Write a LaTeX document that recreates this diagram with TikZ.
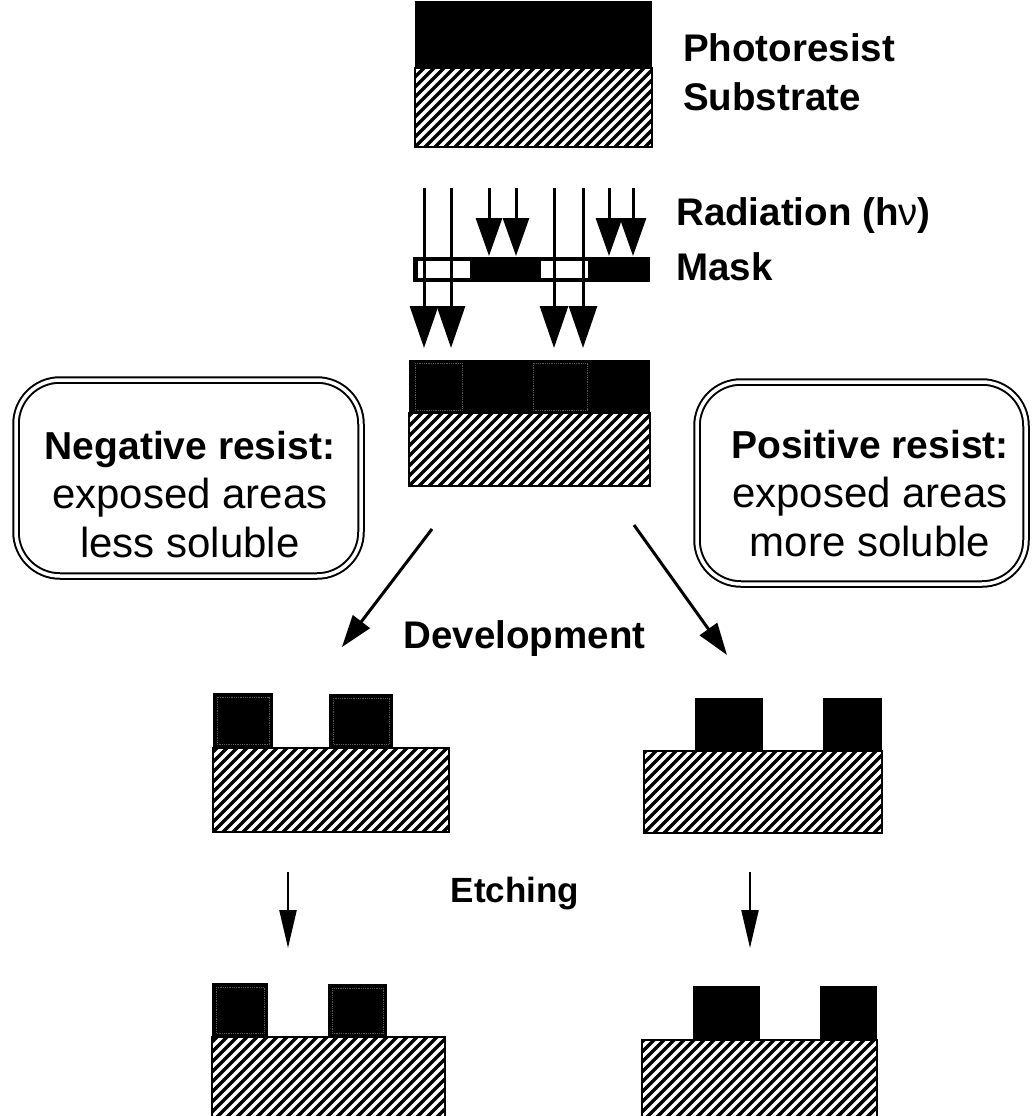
\documentclass[tikz,border=0pt]{standalone}
\usepackage{fontspec}
\setmainfont{Liberation Sans}
\usepackage{tikz}
\usetikzlibrary{arrows.meta}
\tikzset{
  resist/.style  = {fill=black},
  wall/.style    = {draw=black, line width=2.6pt},
  hatch/.style   = {line width=3.5pt},
  expo/.style    = {draw=white, densely dotted, line width=0.8pt, opacity=0.35},
  maskwin/.style = {fill=white, draw=black, line width=1.5pt},
  ray/.style     = {line width=3pt, -{Triangle[length=42pt,width=28pt]}},
  stopray/.style = {line width=3pt, -{Triangle[length=38pt,width=26pt]}},
  devar/.style   = {line width=3pt, -{Triangle[length=32pt,width=21pt]}},
  etchar/.style  = {line width=2.4pt, -{Triangle[length=38pt,width=17pt]}},
  lbl/.style     = {font=\fontsize{38.5}{46}\selectfont\bfseries, anchor=base west, inner sep=0pt},
  stage/.style   = {font=\fontsize{38.5}{46}\selectfont\bfseries, anchor=base, inner sep=0pt},
  note/.style    = {draw=black, double, double distance=3.5pt, line width=2pt, rounded corners=44pt},
  notetxt/.style = {align=center, inner sep=0pt, font=\fontsize{42}{49}\selectfont},
}
\newcommand{\substrate}[4]{%
  \begin{scope}
    \clip (#1,#2) rectangle (#3,#4);
    \foreach \k in {-130,-120,...,260}
      \draw[hatch] (#1+\k,#4) -- ++(130,-130);
  \end{scope}
  \draw[wall] (#1,#2) rectangle (#3,#4);
}

\begin{document}
\begin{tikzpicture}[x=1pt, y=-1pt]
  \path[use as bounding box, clip] (0,0) rectangle (1033,1116);

  % layer stack
  \fill[resist] (415,1) rectangle (652,68);
  \substrate{415}{68}{652}{147}
  \node[lbl] (pr) at (683,62) {Photoresist};
  \node[lbl] (sb) at (683,110) {Substrate};

  % exposure through the mask
  \fill (413,257) rectangle (650,282);
  \draw[maskwin] (417,260) rectangle (471,279);
  \draw[maskwin] (540,260) rectangle (589,279);
  \foreach \x in {489,516,609,633}
    \draw[stopray] (\x,188) -- (\x,256);
  \foreach \x in {424,451,554,583}
    \draw[ray] (\x,188) -- (\x,348);
  \node[lbl] (rad) at (676,225) {Radiation (h{\mdseries ν})};
  \node[lbl] (mk) at (676,280) {Mask};

  % exposed wafer
  \fill[resist] (409,360) rectangle (650,413);
  \draw[expo] (415,363) rectangle (462,410);
  \draw[expo] (533,363) rectangle (587,410);
  \substrate{409}{413}{650}{486}

  \draw[note] (16,380) rectangle (361,576);
  \node[notetxt] (negtxt) at (190,495) {{\fontsize{39}{49}\selectfont\bfseries Negative resist:}\\exposed areas\\less soluble};
  \draw[note] (697,382) rectangle (1026,584);
  \node[notetxt] (postxt) at (870,494) {{\fontsize{39}{49}\selectfont\bfseries Positive resist:}\\exposed areas\\more soluble};

  % development
  \coordinate (dl0) at (432,529); \coordinate (dl1) at (342,647);
  \coordinate (dr0) at (634,525); \coordinate (dr1) at (727,655);
  \draw[devar] (dl0) -- (dl1);
  \draw[devar] (dr0) -- (dr1);
  \node[stage] (dev) at (524.5,648) {Development};

  \fill[resist] (213,693) rectangle (273,748);
  \fill[resist] (329,694) rectangle (393,748);
  \draw[expo] (217,697) rectangle (269,744);
  \draw[expo] (333,698) rectangle (389,744);
  \substrate{213}{748}{449}{832}

  \fill[resist] (695,698) rectangle (763,751);
  \fill[resist] (823,698) rectangle (882,751);
  \substrate{644}{751}{882}{833}

  % etching
  \coordinate (el0) at (288,872); \coordinate (el1) at (288,948);
  \coordinate (er0) at (750,872); \coordinate (er1) at (750,948);
  \draw[etchar] (el0) -- (el1);
  \draw[etchar] (er0) -- (er1);
  \node[stage, font=\fontsize{35}{42}\selectfont\bfseries] (etch) at (515,902) {Etching};

  \fill[resist] (212,983) rectangle (268,1037);
  \fill[resist] (328,984) rectangle (387,1037);
  \draw[expo] (216,987) rectangle (264,1033);
  \draw[expo] (332,988) rectangle (383,1033);
  \substrate{212}{1037}{445}{1122}

  \fill[resist] (693,986) rectangle (760,1040);
  \fill[resist] (820,986) rectangle (877,1040);
  \substrate{642}{1040}{877}{1122}
\end{tikzpicture}
\end{document}
